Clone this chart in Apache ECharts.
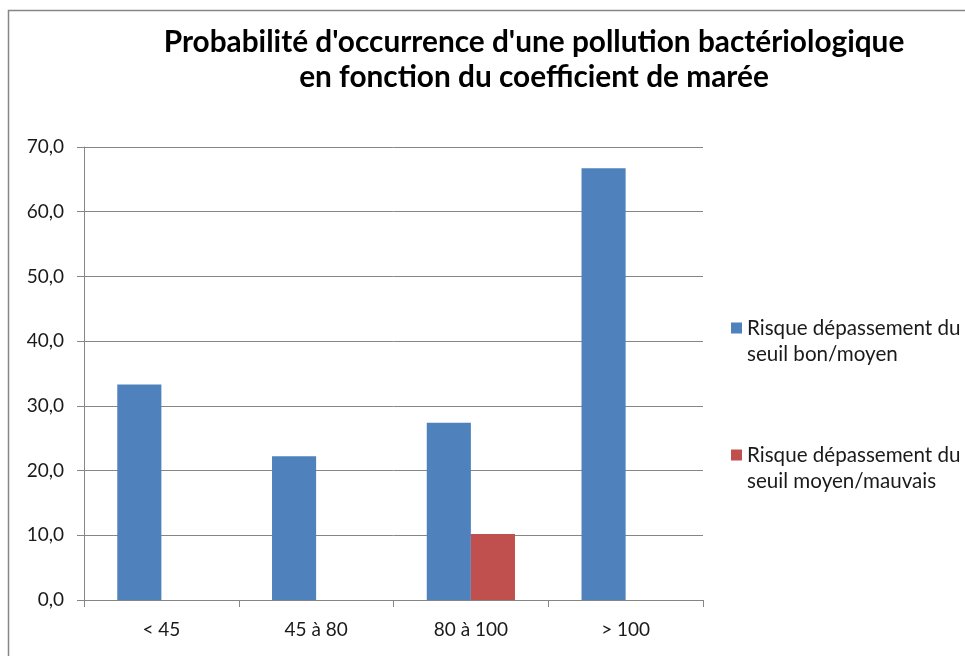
<!DOCTYPE html>
<html>
<head>
<meta charset="utf-8">
<script src="https://cdn.jsdelivr.net/npm/echarts@6/dist/echarts.min.js"></script>
<style>
  html, body { margin: 0; padding: 0; background: #ffffff; }
  #chart { width: 965px; height: 656px; }
</style>
</head>
<body>
<div id="chart"></div>
<script>
// Tide coefficient classes
const categories = ['< 45', '45 à 80', '80 à 100', '> 100'];
// Probability (%) of exceeding the good/medium threshold
const risqueBonMoyen = [33.3, 22.2, 27.4, 66.7];
// Probability (%) of exceeding the medium/bad threshold
const risqueMoyenMauvais = [0, 0, 10.2, 0];

const seriesNames = [
  'Risque dépassement du\nseuil bon/moyen',
  'Risque dépassement du\nseuil moyen/mauvais'
];

const FONT = 'Lato, "Open Sans", sans-serif';
const GRID_COLOR = '#868686';
const TEXT_COLOR = '#1a1a1a';

const chart = echarts.init(document.getElementById('chart'), null, { renderer: 'canvas' });

chart.setOption({
  animation: false,
  backgroundColor: '#ffffff',
  title: {
    text: "Probabilité d'occurrence d'une pollution bactériologique\nen fonction du coefficient de marée",
    left: 529,
    top: 20,
    textAlign: 'center',
    textStyle: {
      fontFamily: FONT,
      fontSize: 29.8,
      fontWeight: 'bold',
      color: '#000000',
      lineHeight: 35
    }
  },
  graphic: [{
    type: 'rect',
    shape: { x: 8.5, y: 10.5, width: 1000, height: 700 },
    style: { fill: null, stroke: GRID_COLOR, lineWidth: 1.5 },
    silent: true
  }],
  legend: {
    orient: 'vertical',
    left: 731,
    top: 289,
    padding: 0,
    itemWidth: 11,
    itemHeight: 11,
    itemGap: 49,
    icon: 'rect',
    // a blank leading line keeps the marker level with the first text line
    formatter: name => ' \n' + name,
    textStyle: {
      fontFamily: FONT,
      fontSize: 20.6,
      color: TEXT_COLOR,
      lineHeight: 26
    },
    data: seriesNames
  },
  grid: {
    left: 84,
    right: 262,
    top: 147,
    bottom: 56,
    containLabel: false
  },
  xAxis: {
    type: 'category',
    data: categories,
    axisLine: { lineStyle: { color: GRID_COLOR, width: 1 } },
    axisTick: { show: true, length: 7, alignWithLabel: false, lineStyle: { color: GRID_COLOR } },
    axisLabel: {
      fontFamily: FONT,
      fontSize: 19,
      color: TEXT_COLOR,
      margin: 20
    }
  },
  yAxis: {
    type: 'value',
    min: 0,
    max: 70,
    interval: 10,
    axisLine: { show: true, lineStyle: { color: GRID_COLOR, width: 1 } },
    axisTick: { show: true, length: 7, lineStyle: { color: GRID_COLOR } },
    splitLine: { show: true, lineStyle: { color: GRID_COLOR, width: 1 } },
    axisLabel: {
      fontFamily: FONT,
      fontSize: 19,
      color: TEXT_COLOR,
      margin: 20,
      formatter: v => v.toFixed(1).replace('.', ',')
    }
  },
  series: [
    {
      name: seriesNames[0],
      type: 'bar',
      data: risqueBonMoyen,
      barGap: '0%',
      barCategoryGap: '43%',
      itemStyle: { color: '#4f81bd' }
    },
    {
      name: seriesNames[1],
      type: 'bar',
      data: risqueMoyenMauvais,
      barGap: '0%',
      barCategoryGap: '43%',
      itemStyle: { color: '#c0504d' }
    }
  ]
});
</script>
</body>
</html>
